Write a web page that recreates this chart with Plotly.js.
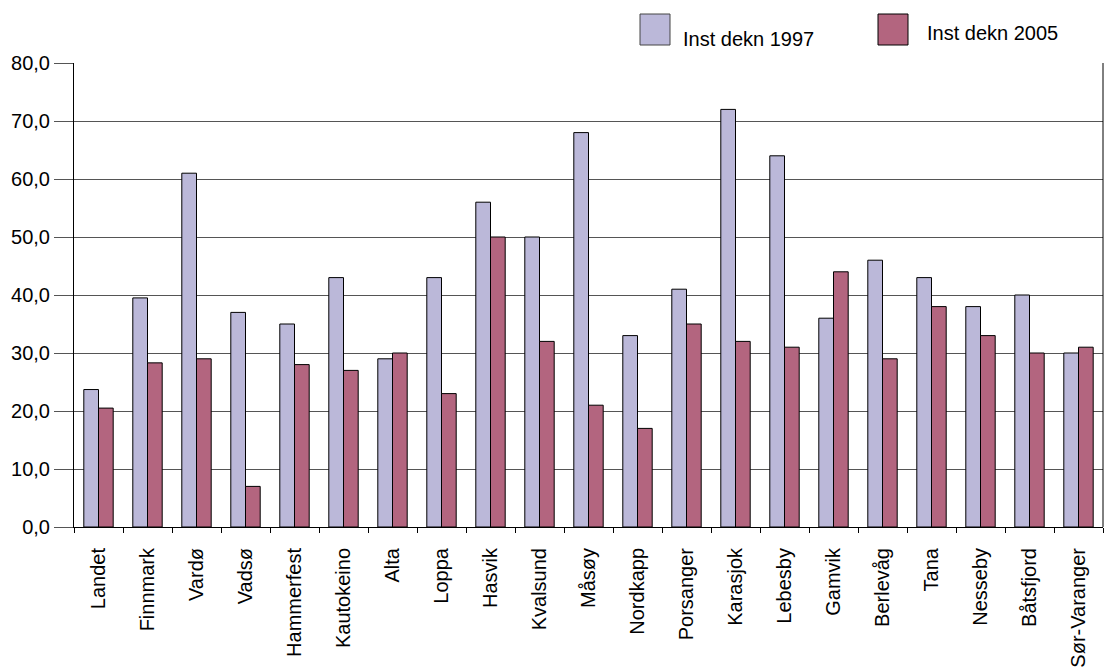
<!DOCTYPE html>
<html><head><meta charset="utf-8">
<script src="https://cdn.plot.ly/plotly-3.0.1.min.js"></script>
<style>body{margin:0;background:#fff}#c{width:1110px;height:671px}</style>
</head><body><div id="c"></div>
<script>
const categories = ["Landet","Finnmark","Vardø","Vadsø","Hammerfest","Kautokeino","Alta","Loppa","Hasvik","Kvalsund","Måsøy","Nordkapp","Porsanger","Karasjok","Lebesby","Gamvik","Berlevåg","Tana","Nesseby","Båtsfjord","Sør-Varanger"];
const values1997 = [23.7,39.5,61,37,35,43,29,43,56,50,68,33,41,72,64,36,46,43,38,40,30];
const values2005 = [20.5,28.3,29,7,28,27,30,23,50,32,21,17,35,32,31,44,29,38,33,30,31];
const seriesNames = ["Inst dekn 1997","Inst dekn 2005"];
const colors = ["#BBB8D9","#B3657F"];
const font = {family:"Liberation Sans, Arial, sans-serif", size:20, color:"#000"};
const data = [
 {type:"bar", x:categories, y:values1997, name:seriesNames[0], marker:{color:colors[0], line:{color:"#000", width:1}}},
 {type:"bar", x:categories, y:values2005, name:seriesNames[1], marker:{color:colors[1], line:{color:"#000", width:1}}}
];
const X = px => (px-74)/1029, Y = py => (527-py)/464;
const layout = {
 width:1110, height:671,
 margin:{l:74, r:7, t:63, b:144},
 paper_bgcolor:"#fff", plot_bgcolor:"#fff",
 font:font, showlegend:false,
 separators:", ",
 bargap:0.4, bargroupgap:0,
 xaxis:{type:"category", tickangle:-90, tickson:"boundaries", ticks:"outside", ticklen:5, tickcolor:"#000",
   ticklabelstandoff:12,
   showline:true, linecolor:"#000", linewidth:1, mirror:false, showgrid:false, tickfont:font},
 yaxis:{range:[0,80], dtick:10, tickformat:".1f", ticks:"outside", ticklen:19, tickcolor:"#555",
   showline:true, linecolor:"#000", linewidth:1, showgrid:true, gridcolor:"#555", gridwidth:1, zeroline:false, tickfont:font},
 shapes:[
  {type:"line", xref:"paper", yref:"paper", x0:1, x1:1, y0:0, y1:1, line:{color:"#000", width:1}},
  {type:"rect", xref:"paper", yref:"paper", x0:X(640), x1:X(670), y0:Y(14), y1:Y(45), fillcolor:colors[0], line:{color:"#444", width:1}},
  {type:"rect", xref:"paper", yref:"paper", x0:X(878), x1:X(908), y0:Y(14), y1:Y(45), fillcolor:colors[1], line:{color:"#000", width:1}}
 ],
 annotations:[
  {xref:"paper", yref:"paper", x:X(681), y:Y(39), xanchor:"left", yanchor:"middle", text:seriesNames[0], showarrow:false, font:font},
  {xref:"paper", yref:"paper", x:X(925), y:Y(33), xanchor:"left", yanchor:"middle", text:seriesNames[1], showarrow:false, font:font}
 ]
};
Plotly.newPlot("c", data, layout, {displayModeBar:false, staticPlot:true});
</script></body></html>
